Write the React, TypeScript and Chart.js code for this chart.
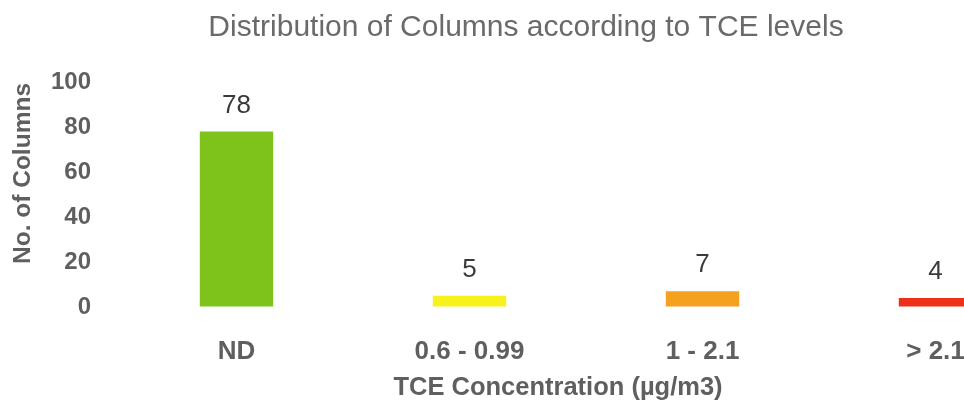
import React, { useEffect, useRef } from "react";
import { Chart, registerables } from "chart.js";

Chart.register(...registerables);

const categories = ["ND", "0.6 - 0.99", "1 - 2.1", "> 2.1"];
const columnCounts = [78, 5, 7, 4];
const barColors = ["#7dc31c", "#f8f21c", "#f5a01f", "#ec3118"];
const yTicks = [0, 20, 40, 60, 80, 100];
const chartTitle = "Distribution of Columns according to TCE levels";
const xAxisTitle = "TCE Concentration (µg/m3)";
const yAxisTitle = "No. of Columns";

const FONT = '"Liberation Sans", Arial, sans-serif';
const AXIS_GRAY = "#5f5f5f";

const valueLabels = {
  id: "valueLabels",
  afterDatasetsDraw(chart: any) {
    const ctx = chart.ctx;
    const meta = chart.getDatasetMeta(0);
    ctx.save();
    ctx.font = `normal 26px ${FONT}`;
    ctx.fillStyle = "#3a3a3a";
    ctx.textAlign = "center";
    ctx.textBaseline = "alphabetic";
    meta.data.forEach((bar: any, i: number) => {
      ctx.fillText(String(columnCounts[i]), bar.x, bar.y - 19);
    });
    ctx.restore();
  },
};

const axisTitles = {
  id: "axisTitles",
  afterDraw(chart: any) {
    const ctx = chart.ctx;
    const area = chart.chartArea;
    ctx.save();
    ctx.fillStyle = AXIS_GRAY;
    ctx.textAlign = "center";
    ctx.textBaseline = "middle";
    ctx.font = `bold 25.5px ${FONT}`;
    ctx.fillText(xAxisTitle, (area.left + area.right) / 2 - 28, area.bottom + 81);
    ctx.font = `bold 24.5px ${FONT}`;
    ctx.translate(area.left - 97, (area.top + area.bottom) / 2 - 21);
    ctx.rotate(-Math.PI / 2);
    ctx.fillText(yAxisTitle, 0, 0);
    ctx.restore();
  },
};

export default function App() {
  const ref = useRef<HTMLCanvasElement | null>(null);
  useEffect(() => {
    if (!ref.current) return;
    const chart = new Chart(ref.current, {
      type: "bar",
      data: {
        labels: categories,
        datasets: [
          {
            data: columnCounts,
            backgroundColor: barColors,
            borderWidth: 0,
            barPercentage: 0.63,
            categoryPercentage: 0.5,
          },
        ],
      },
      options: {
        animation: false,
        responsive: false,
        maintainAspectRatio: false,
        layout: { padding: { left: 0, right: 8, top: 0, bottom: 0 } },
        plugins: {
          legend: { display: false },
          tooltip: { enabled: false },
          title: {
            display: true,
            text: chartTitle,
            color: "#6a6a6a",
            font: { family: FONT, size: 30, weight: "normal" },
            padding: { top: 10, bottom: 36 },
          },
        },
        scales: {
          x: {
            afterFit: (scale: any) => {
              scale.height = 103;
            },
            grid: {
              display: true,
              drawOnChartArea: false,
              drawTicks: true,
              tickLength: 27,
              color: "rgba(0,0,0,0)",
            },
            border: { display: false },
            ticks: {
              color: AXIS_GRAY,
              font: { family: FONT, size: 26, weight: "bold" },
              padding: 2,
              maxRotation: 0,
            },
            title: { display: false },
          },
          y: {
            min: 0,
            max: 100,
            afterFit: (scale: any) => {
              scale.width = 120;
            },
            afterBuildTicks: (scale: any) => {
              scale.ticks = yTicks.map((v) => ({ value: v }));
            },
            grid: {
              display: true,
              drawOnChartArea: false,
              drawTicks: true,
              tickLength: 27,
              color: "rgba(0,0,0,0)",
            },
            border: { display: false },
            ticks: {
              color: AXIS_GRAY,
              font: { family: FONT, size: 24, weight: "bold" },
              padding: 2,
            },
            title: { display: false },
          },
        },
      },
      plugins: [valueLabels, axisTitles],
    });
    return () => chart.destroy();
  }, []);

  return (
    <div
      style={{
        position: "fixed",
        left: 0,
        top: 0,
        width: 964,
        height: 410,
        overflow: "hidden",
        background: "#ffffff",
      }}
    >
      <canvas ref={ref} width={1060} height={410} style={{ display: "block" }} />
    </div>
  );
}
